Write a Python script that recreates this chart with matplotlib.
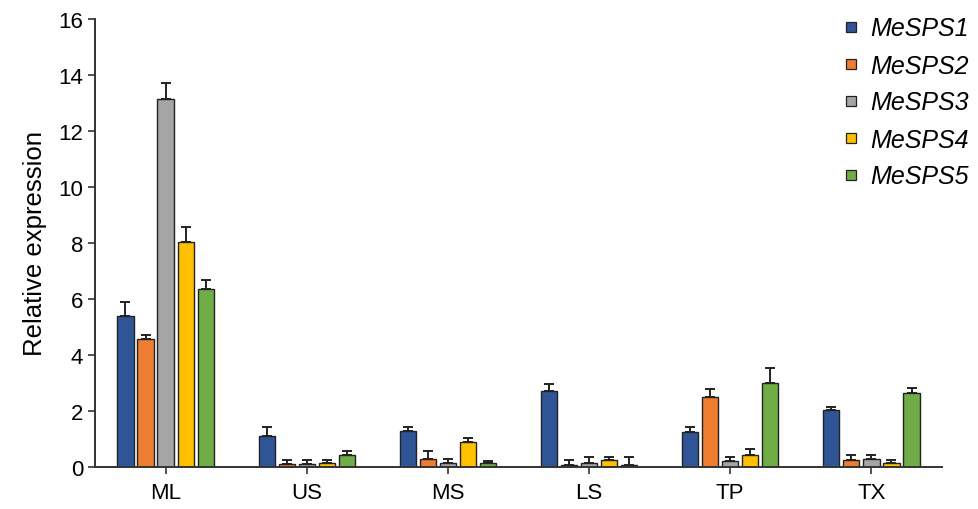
import numpy as np
from matplotlib import pyplot as plt
from matplotlib.lines import Line2D

plt.rcParams['font.family'] = ['Liberation Sans', 'DejaVu Sans']

tissues = ['ML', 'US', 'MS', 'LS', 'TP', 'TX']
genes = ['MeSPS1', 'MeSPS2', 'MeSPS3', 'MeSPS4', 'MeSPS5']
colors = ['#2F5597', '#ED7D31', '#A5A5A5', '#FFC000', '#70AD47']

means = [
    [5.39, 1.10, 1.29, 2.71, 1.25, 2.04],
    [4.57, 0.10, 0.30, 0.07, 2.50, 0.25],
    [13.14, 0.10, 0.14, 0.14, 0.21, 0.30],
    [8.03, 0.14, 0.89, 0.25, 0.43, 0.14],
    [6.36, 0.43, 0.14, 0.07, 3.00, 2.64],
]
errors = [
    [0.50, 0.33, 0.14, 0.25, 0.18, 0.10],
    [0.14, 0.15, 0.27, 0.18, 0.29, 0.18],
    [0.56, 0.15, 0.15, 0.22, 0.15, 0.13],
    [0.54, 0.11, 0.15, 0.11, 0.21, 0.11],
    [0.32, 0.14, 0.07, 0.29, 0.54, 0.18],
]

fig = plt.figure(figsize=(9.79, 5.10), dpi=100)
ax = fig.add_axes([95 / 979, 1 - 468 / 510, 847 / 979, 448 / 510])

x = np.arange(len(tissues))
slot = 0.142
width = 0.115
for i, g in enumerate(genes):
    pos = x + (i - 2) * slot
    ax.bar(pos, means[i], width, color=colors[i], edgecolor='#222222',
           linewidth=1.0, label=g, zorder=2)
    ax.errorbar(pos, means[i], yerr=[np.zeros(len(tissues)), errors[i]],
                fmt='none', ecolor='#222222', elinewidth=1.4, capsize=3.8,
                capthick=1.4, zorder=3)

ax.set_xlim(-0.5, len(tissues) - 0.5)
ax.set_ylim(0, 16)
ax.set_yticks(range(0, 17, 2))
ax.set_xticks(x)
ax.set_xticklabels(tissues)
ax.tick_params(axis='both', labelsize=16, color='#333333', width=1.2, length=5)
ax.tick_params(axis='x', length=5, pad=6)
ax.set_ylabel('Relative expression', fontsize=18.5, labelpad=8)

for s in ['top', 'right']:
    ax.spines[s].set_visible(False)
for s in ['left', 'bottom']:
    ax.spines[s].set_color('#333333')
    ax.spines[s].set_linewidth(1.4)

# square legend markers like the original
handles = [Line2D([], [], linestyle='none', marker='s', markersize=7,
                  markerfacecolor=c, markeredgecolor='#222222',
                  markeredgewidth=0.9) for c in colors]
fig.legend(handles, genes, loc='upper left',
           bbox_to_anchor=(836 / 979, 1 - 10 / 510), frameon=False,
           prop={'style': 'italic', 'size': 18},
           handlelength=0.6, handletextpad=0.45,
           labelspacing=0.52, borderaxespad=0, borderpad=0.3)

plt.savefig('out.png', dpi=100)
